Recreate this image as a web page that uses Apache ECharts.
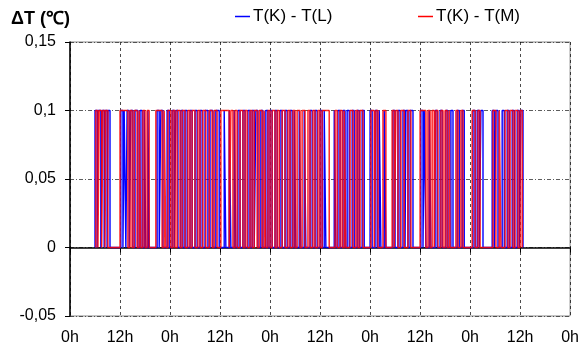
<!DOCTYPE html>
<html><head><meta charset="utf-8">
<script src="https://cdn.jsdelivr.net/npm/echarts@6/dist/echarts.min.js"></script>
<style>html,body{margin:0;padding:0;background:#fff}#c{width:582px;height:356px}</style>
</head><body><div id="c"></div>
<script>
const seriesNames = ['T(K) - T(L)', 'T(K) - T(M)'];
const xTicks = ['0h','12h','0h','12h','0h','12h','0h','12h','0h','12h','0h'];
const yTicks = [-0.05, 0, 0.05, 0.1, 0.15];
const pulseHigh = 0.1;
// hours where T(K)-T(L) is at 0.1 (start, end)
const bluePulses = [[6.0,6.5],[6.7,7.4],[7.7,8.2],[8.4,8.9],[9.1,9.6],[12.2,12.7],[13.0,13.4],[13.7,14.2],[14.6,15.1],[15.6,16.3],[16.8,17.3],[17.8,18.2],[18.7,19.0],[20.9,21.4],[21.8,22.3],[23.3,23.8],[24.5,25.0],[25.4,25.9],[26.6,27.1],[27.6,28.1],[28.8,29.3],[30.0,30.5],[31.2,31.7],[32.4,33.1],[33.6,34.3],[35.0,35.8],[37.0,37.4],[38.2,38.6],[39.4,39.8],[40.3,40.8],[41.5,42.0],[42.7,43.2],[43.7,44.2],[44.6,45.1],[45.8,46.3],[47.0,47.5],[48.0,48.5],[49.2,49.7],[50.4,50.9],[51.6,52.1],[52.8,53.3],[53.8,54.2],[55.0,55.4],[56.2,56.6],[57.6,58.1],[58.8,59.3],[60.0,60.5],[61.0,61.4],[63.4,63.8],[64.3,64.8],[65.5,66.0],[66.5,67.0],[67.7,68.2],[68.9,69.4],[70.1,70.6],[72.0,72.5],[73.2,73.7],[74.2,74.6],[75.4,75.8],[77.5,78.0],[78.7,79.2],[79.9,80.4],[80.6,81.1],[81.6,82.3],[84.2,84.7],[85.0,85.4],[86.2,86.6],[87.6,88.1],[88.8,89.3],[90.2,90.7],[91.4,91.9],[92.9,93.4],[94.1,94.6],[96.7,97.2],[97.7,98.2],[98.6,99.1],[101.3,101.8],[102.2,102.7],[103.7,104.2],[104.9,105.4],[106.1,106.6],[107.3,107.8],[108.2,108.7]];
// hours where T(K)-T(M) is at 0.1 (start, end)
const redPulses = [[6.2,6.7],[7.0,7.6],[7.9,8.4],[8.6,9.1],[12.0,13.9],[14.4,14.9],[15.4,16.1],[16.6,17.0],[17.5,18.0],[18.5,19.0],[20.6,22.1],[22.6,23.0],[23.5,24.2],[24.7,25.2],[25.7,26.4],[26.9,27.6],[28.3,28.8],[29.3,30.0],[30.7,31.2],[31.9,32.6],[33.4,34.1],[34.6,35.3],[36.2,38.2],[38.6,39.1],[39.6,40.1],[40.8,41.5],[42.0,42.5],[43.2,43.7],[44.2,44.9],[45.4,46.1],[46.6,47.0],[47.5,48.0],[48.5,49.2],[49.7,50.2],[50.9,51.6],[52.3,52.8],[53.5,54.0],[54.5,55.2],[55.7,56.4],[57.1,57.6],[58.3,58.8],[59.5,60.0],[60.5,62.2],[63.6,64.1],[64.8,65.3],[65.8,66.2],[67.2,67.9],[68.6,69.1],[69.6,70.3],[72.2,73.0],[73.4,73.9],[75.1,75.8],[77.3,77.8],[78.2,78.7],[79.4,80.2],[81.1,81.8],[84.0,85.4],[85.9,86.4],[86.9,87.4],[87.8,88.3],[89.0,89.5],[90.0,90.5],[91.0,91.2],[92.6,93.1],[93.8,94.3],[96.5,97.2],[97.9,98.4],[101.5,102.2],[103.0,103.4],[104.4,105.1],[105.6,106.3],[106.8,107.5],[108.0,108.5]];

function toSteps(pulses){
  const d = [];
  pulses.forEach(([a,b]) => { d.push([a,0],[a,pulseHigh],[b,pulseHigh],[b,0]); });
  return d;
}
const FONT = '"Liberation Sans", Arial, sans-serif';
const chart = echarts.init(document.getElementById('c'), null, {renderer:'canvas'});
chart.setOption({
  animation:false,
  backgroundColor:'#fff',
  title:{text:'ΔT (℃)', left:6, top:5, textStyle:{fontFamily:FONT, fontSize:18, fontWeight:'bold', color:'#000'}},
  legend:[
    {data:[seriesNames[0]], left:230, top:3, icon:'rect', itemWidth:15, itemHeight:1.5, itemGap:6,
     textStyle:{fontFamily:FONT, fontSize:17, color:'#000', padding:[0,0,0,-2]}},
    {data:[seriesNames[1]], left:413, top:3, icon:'rect', itemWidth:15, itemHeight:1.5, itemGap:6,
     textStyle:{fontFamily:FONT, fontSize:17, color:'#000', padding:[0,0,0,-2]}}
  ],
  grid:{left:70, right:10, top:42, bottom:40, show:true, borderColor:'#888', borderWidth:1, backgroundColor:'transparent'},
  xAxis:[
    {type:'value', min:0, max:120, interval:12,
     axisLine:{onZero:true, lineStyle:{color:'#000', width:1.5}},
     axisTick:{show:true, length:5, inside:false, lineStyle:{color:'#000'}},
     axisLabel:{show:false},
     splitLine:{show:true, lineStyle:{color:'#000', type:[3,3], width:0.7}}},
    {type:'value', min:0, max:120, interval:12, position:'bottom',
     axisLine:{show:false, onZero:false}, axisTick:{show:false}, splitLine:{show:false},
     axisLabel:{margin:14, fontFamily:FONT, fontSize:16, color:'#000',
       formatter:(v)=> xTicks[Math.round(v/12)]}}
  ],
  yAxis:{type:'value', min:yTicks[0], max:yTicks[yTicks.length-1], interval:0.05,
    axisLine:{show:true, lineStyle:{color:'#000', width:1.5}},
    axisTick:{show:true, length:5, lineStyle:{color:'#000'}},
    axisLabel:{margin:14, fontFamily:FONT, fontSize:16, color:'#000',
      formatter:(v)=> String(Math.round(v*100)/100).replace('.',',')},
    splitLine:{show:true, lineStyle:{color:'#333', type:[4,2,1,2], width:0.8}}},
  series:[
    {name:seriesNames[0], type:'line', xAxisIndex:0, showSymbol:false, symbol:'none',
     data:toSteps(bluePulses), lineStyle:{color:'#0000ff', width:1.4}, itemStyle:{color:'#0000ff'}},
    {name:seriesNames[1], type:'line', xAxisIndex:0, showSymbol:false, symbol:'none',
     data:toSteps(redPulses), lineStyle:{color:'#ff0000', width:1.5, opacity:0.85}, itemStyle:{color:'#ff0000'}}
  ]
});
</script></body></html>
